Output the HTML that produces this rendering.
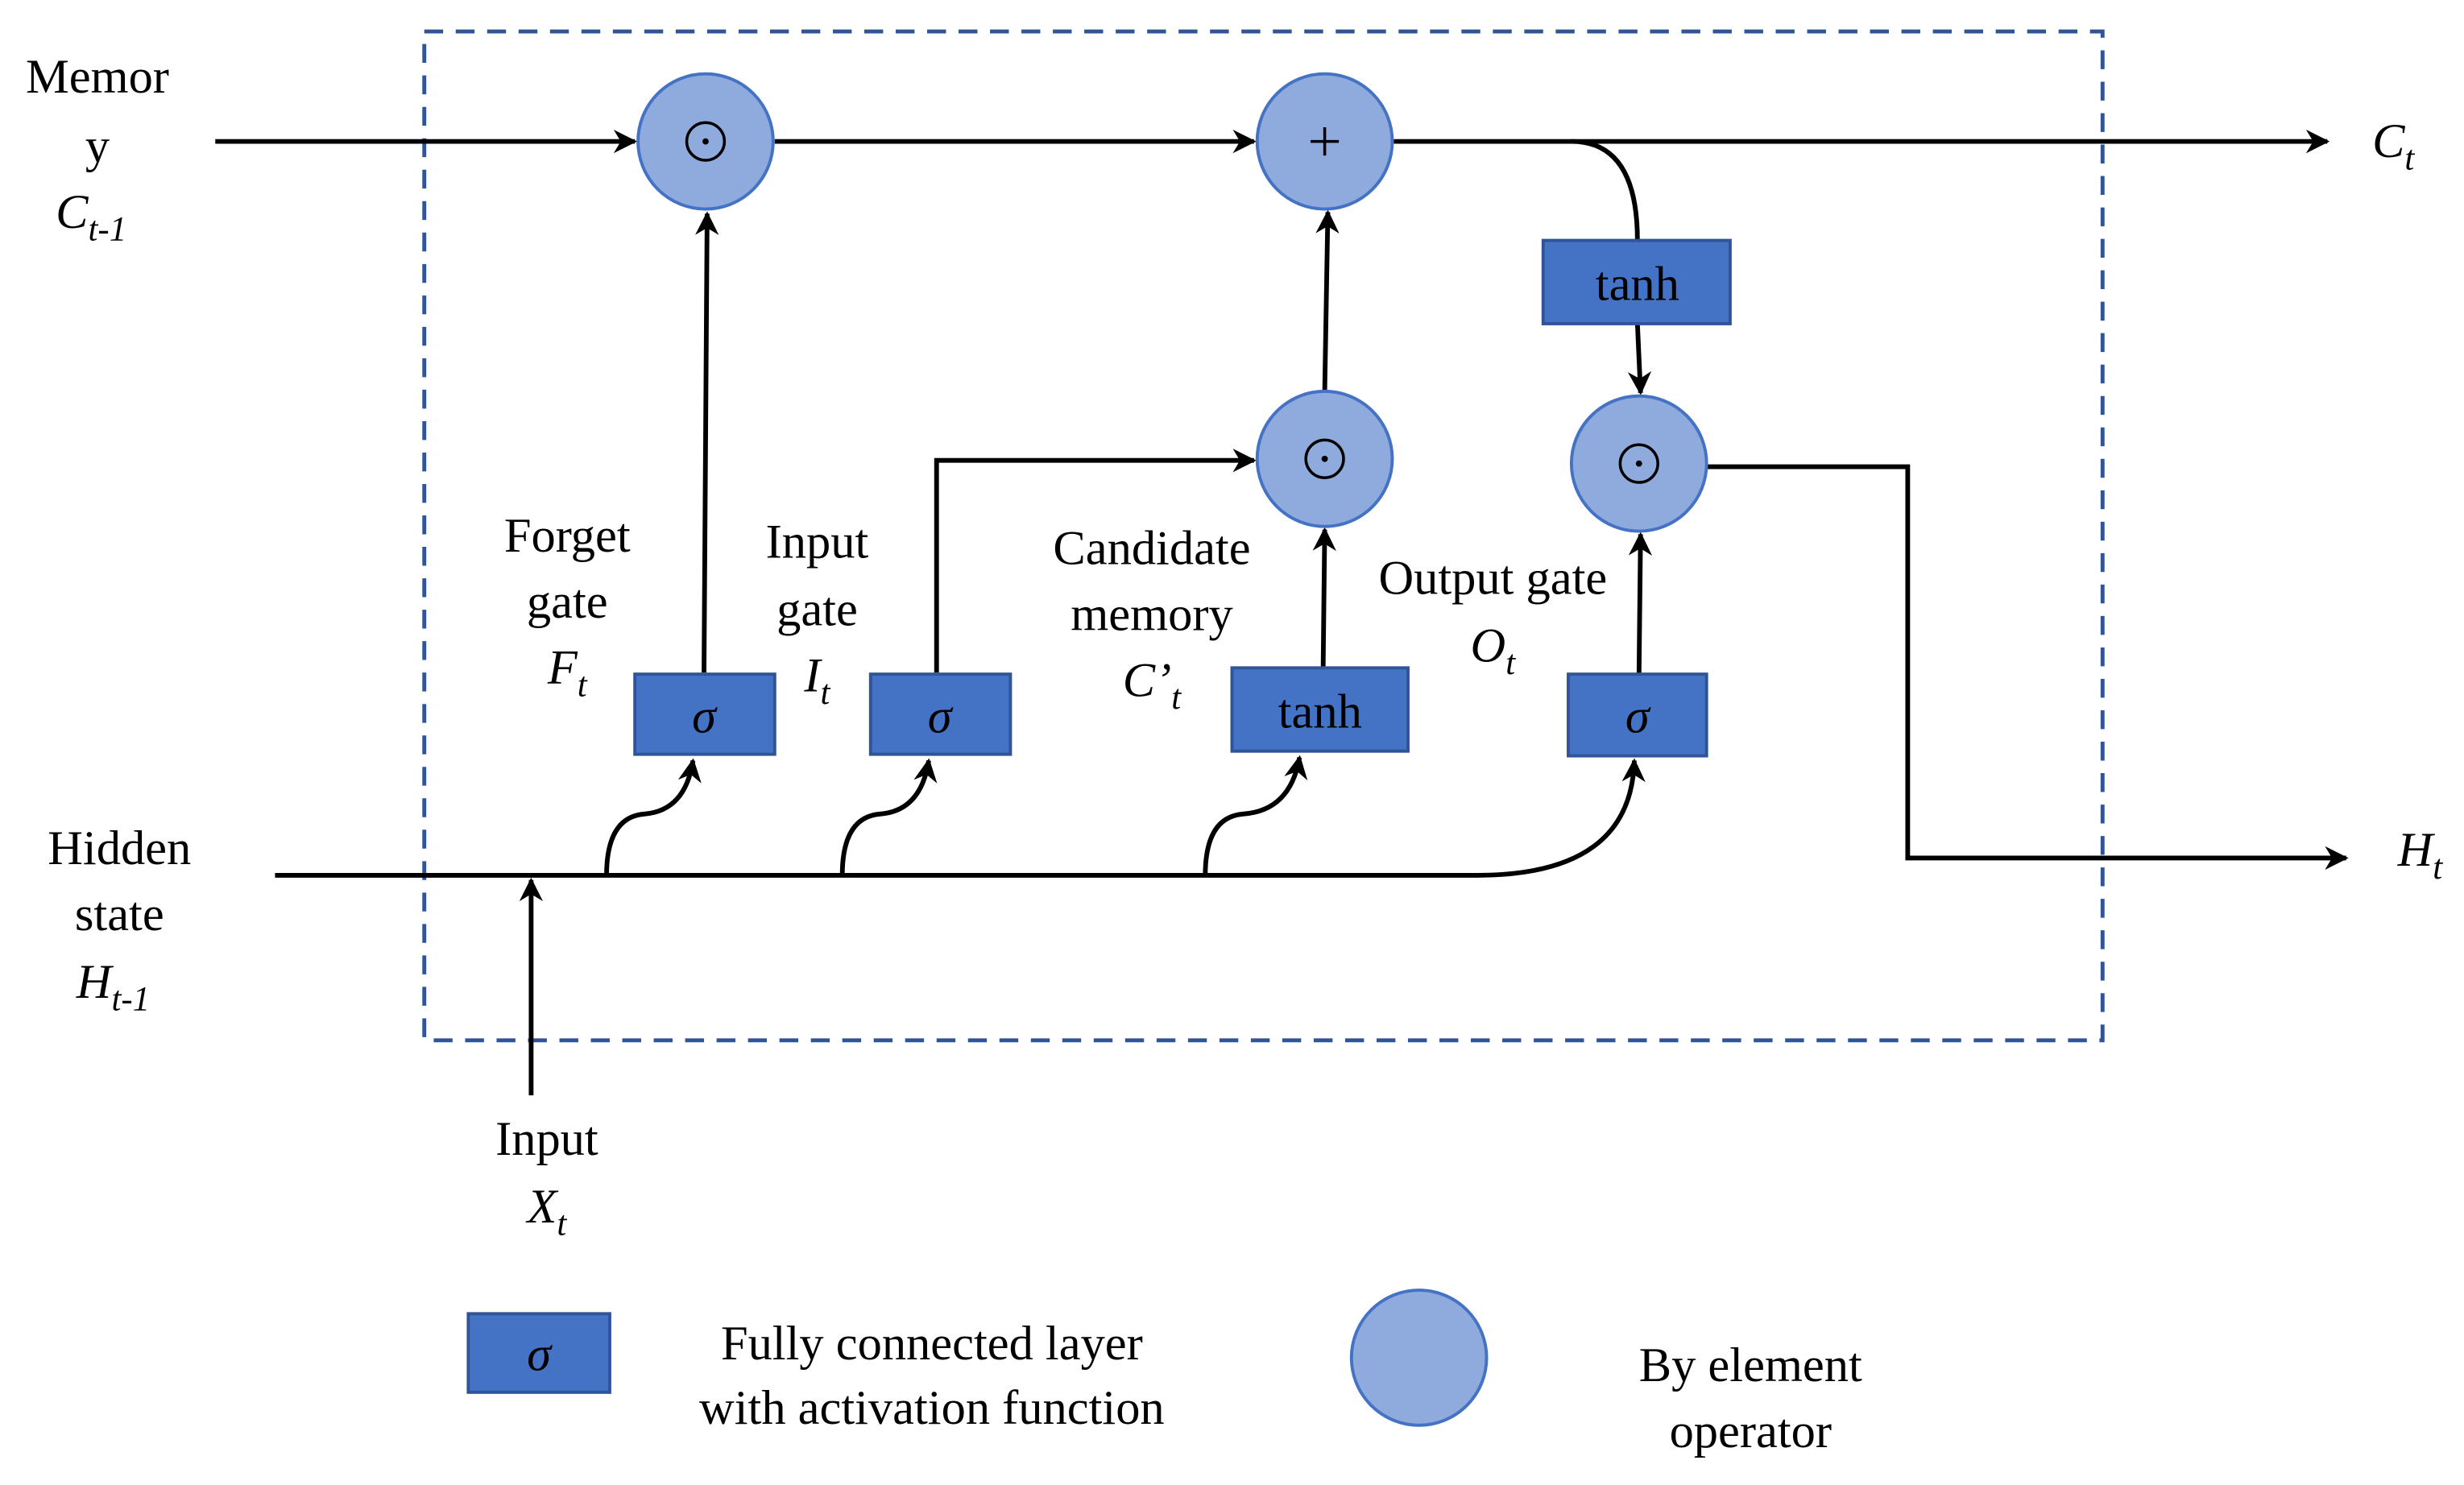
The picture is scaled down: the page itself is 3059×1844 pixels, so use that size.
<!DOCTYPE html>
<html><head><meta charset="utf-8"><style>html,body{margin:0;padding:0;background:#fff}svg{display:block}text{font-family:"Liberation Serif","Times New Roman",serif}</style></head>
<body>
<svg width="3059" height="1844" viewBox="0 0 1568 945" preserveAspectRatio="none" xmlns="http://www.w3.org/2000/svg">
<defs>
<marker id="a" viewBox="0 0 10 10" refX="9" refY="5" markerWidth="5" markerHeight="5" orient="auto-start-reverse"><path d="M0,0 L10,5 L0,10 L3,5 z" fill="#000"/></marker>
</defs>
<rect x="270" y="20" width="1068" height="642" fill="none" stroke="#2F5597" stroke-width="2.5" stroke-dasharray="12,8"/>
<g stroke="#000" stroke-width="3" fill="none">
<line x1="137" y1="90" x2="404" y2="90" marker-end="url(#a)"/>
<line x1="493" y1="90" x2="798" y2="90" marker-end="url(#a)"/>
<line x1="887" y1="90" x2="1481" y2="90" marker-end="url(#a)"/>
<path d="M1000,90 Q1042,90 1042,153"/>
<line x1="1042" y1="206" x2="1044" y2="250" marker-end="url(#a)"/>
<line x1="448" y1="428" x2="450" y2="136" marker-end="url(#a)"/>
<path d="M596,428 V293 H798" marker-end="url(#a)"/>
<line x1="842" y1="425" x2="843" y2="337" marker-end="url(#a)"/>
<line x1="843" y1="249" x2="845" y2="135" marker-end="url(#a)"/>
<line x1="1043" y1="429" x2="1044" y2="340" marker-end="url(#a)"/>
<path d="M1086,297 H1214 V546 H1493" marker-end="url(#a)"/>
<path d="M175,557 H940 Q1038,557 1040,484" marker-end="url(#a)"/>
<path d="M386,557 Q386,520 410,518 Q436,516 441,484" marker-end="url(#a)"/>
<path d="M536,557 Q536,520 560,518 Q586,516 591,484" marker-end="url(#a)"/>
<path d="M767,557 Q767,520 791,518 Q821,516 827,482" marker-end="url(#a)"/>
<line x1="338" y1="697" x2="338" y2="560" marker-end="url(#a)"/>
</g>
<g fill="#8FAADC" stroke="#4472C4" stroke-width="2">
<ellipse cx="449" cy="90" rx="43" ry="43"/>
<ellipse cx="843" cy="90" rx="43" ry="43"/>
<ellipse cx="843" cy="292" rx="43" ry="43"/>
<ellipse cx="1043" cy="295" rx="43" ry="43"/>
<ellipse cx="903" cy="864" rx="43" ry="43"/>
</g>
<g fill="#4472C4" stroke="#2F5597" stroke-width="2">
<rect x="982" y="153" width="119" height="53"/>
<rect x="404" y="429" width="89" height="51"/>
<rect x="554" y="429" width="89" height="51"/>
<rect x="784" y="425" width="112" height="53"/>
<rect x="998" y="429" width="88" height="52"/>
<rect x="298" y="836" width="90" height="50"/>
</g>
<g fill="none" stroke="#000" stroke-width="1.8">
<circle cx="449" cy="90" r="12"/><circle cx="843" cy="292" r="12"/><circle cx="1043" cy="295" r="12"/>
</g>
<g fill="#000"><circle cx="449" cy="90" r="2"/><circle cx="843" cy="292" r="2"/><circle cx="1043" cy="295" r="2"/></g>
<g stroke="#000" stroke-width="1.8"><line x1="834" y1="90" x2="852" y2="90"/><line x1="843" y1="81" x2="843" y2="99"/></g>
<g font-size="31" text-anchor="middle" fill="#000">
<text x="1042" y="191">tanh</text>
<text x="840" y="463">tanh</text>
<text x="448" y="466" font-style="italic">σ</text>
<text x="598" y="466" font-style="italic">σ</text>
<text x="1042" y="466" font-style="italic">σ</text>
<text x="343" y="872" font-style="italic">σ</text>
<text x="62" y="59">Memor</text>
<text x="62" y="103">y</text>
<text x="58" y="145" font-style="italic">C<tspan font-size="22" dy="8">t-1</tspan></text>
<text x="76" y="550">Hidden</text>
<text x="76" y="592">state</text>
<text x="72" y="635" font-style="italic">H<tspan font-size="22" dy="8">t-1</tspan></text>
<text x="361" y="351">Forget</text>
<text x="361" y="393">gate</text>
<text x="361" y="435" font-style="italic">F<tspan font-size="22" dy="8">t</tspan></text>
<text x="520" y="355">Input</text>
<text x="520" y="398">gate</text>
<text x="520" y="440" font-style="italic">I<tspan font-size="22" dy="8">t</tspan></text>
<text x="733" y="359">Candidate</text>
<text x="733" y="401">memory</text>
<text x="733" y="443" font-style="italic">C’<tspan font-size="22" dy="8">t</tspan></text>
<text x="950" y="378">Output gate</text>
<text x="950" y="421" font-style="italic">O<tspan font-size="22" dy="8">t</tspan></text>
<text x="348" y="735">Input</text>
<text x="348" y="778" font-style="italic">X<tspan font-size="22" dy="8">t</tspan></text>
<text x="1523" y="100" font-style="italic">C<tspan font-size="22" dy="8">t</tspan></text>
<text x="1540" y="551" font-style="italic">H<tspan font-size="22" dy="8">t</tspan></text>
<text x="593" y="865">Fully connected layer</text>
<text x="593" y="906">with activation function</text>
<text x="1114" y="879">By element</text>
<text x="1114" y="921">operator</text>
</g>
</svg>
</body></html>
